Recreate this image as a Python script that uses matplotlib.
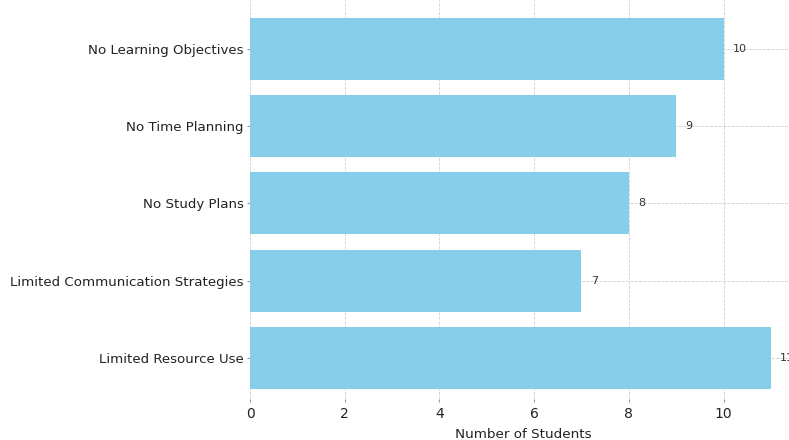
import matplotlib.pyplot as plt

# data
categories = ["Limited Resource Use", "Limited Communication Strategies",
              "No Study Plans", "No Time Planning", "No Learning Objectives"]
counts = [11, 7, 8, 9, 10]

fig = plt.figure(figsize=(7.89, 4.4), dpi=100)
# axes runs a bit past the right edge, like the original crop
ax = fig.add_axes([0.317, 0.093, 0.693, 0.907])

bars = ax.barh(categories, counts, color="skyblue", height=0.8)
for bar, val in zip(bars, counts):
    ax.text(bar.get_width() + 0.2, bar.get_y() + bar.get_height() / 2, str(val),
            va="center", ha="left", fontsize=8, color="#333333")

ax.set_ylim(-0.53, 4.63)
ax.set_xlabel("Number of Students", fontsize=9.7, color="#222222", labelpad=5)
ax.grid(True, linestyle="--", linewidth=0.6, color="#d0d0d0")
ax.set_axisbelow(True)
for s in ax.spines.values():
    s.set_visible(False)
ax.tick_params(axis="both", labelcolor="#222222", color="#999999", length=2.5)
ax.tick_params(axis="y", labelsize=9.6, pad=2.2)
ax.tick_params(axis="x", labelsize=10, pad=3.5)

fig.savefig("out.png", dpi=100)
